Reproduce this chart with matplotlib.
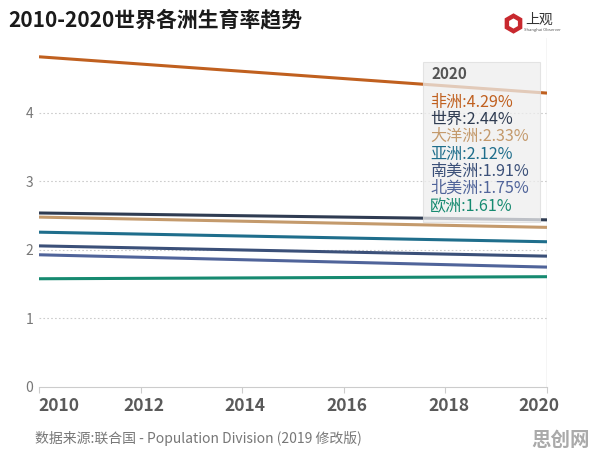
import matplotlib
matplotlib.use("Agg")
import matplotlib.pyplot as plt
from matplotlib.patches import Rectangle
from matplotlib.lines import Line2D
import matplotlib.transforms as mtransforms

plt.rcParams['font.family'] = ['Noto Sans CJK SC', 'DejaVu Sans']

years = [2010, 2020]
series_names = ["非洲", "世界", "大洋洲", "亚洲", "南美洲", "北美洲", "欧洲"]
africa = [4.82, 4.29]
world = [2.54, 2.44]
oceania = [2.48, 2.33]
asia = [2.26, 2.12]
south_america = [2.06, 1.91]
north_america = [1.93, 1.75]
europe = [1.58, 1.61]
values = [africa, world, oceania, asia, south_america, north_america, europe]
colors = ["#c0601f", "#2f3c52", "#c49a6c", "#1f6e8c", "#3b5079", "#50649a", "#168a70"]
labels_2020 = ["4.29%", "2.44%", "2.33%", "2.12%", "1.91%", "1.75%", "1.61%"]
xticks = [2010, 2012, 2014, 2016, 2018, 2020]
yticks = [0, 1, 2, 3, 4]

fig = plt.figure(figsize=(5.96, 4.51), dpi=100)
ax = fig.add_axes([39/596, 1-387/451, (547-39)/596, (387-37.6)/451])

for v, c in zip(values, colors):
    ax.plot(years, v, color=c, lw=2.2, solid_capstyle='butt', zorder=3)

ax.set_xlim(2010, 2020)
ax.set_ylim(0, 5.1)
ax.set_xticks(xticks)
ax.set_xticklabels([str(x) for x in xticks], fontsize=12.5, fontweight='bold', color='#5a5a5a')
ax.set_yticks(yticks)
ax.set_yticklabels([str(y) for y in yticks], fontsize=10, color='#777777')
for y in yticks[1:]:
    ax.axhline(y, color='#cccccc', lw=0.8, ls=(0, (1.5, 2)), zorder=1)
for s in ['top', 'right', 'left']:
    ax.spines[s].set_visible(False)
ax.spines['bottom'].set_color('#cccccc')
ax.tick_params(axis='x', length=4, color='#cccccc', pad=3)
ax.tick_params(axis='y', length=0, pad=4)
ax.axvline(2020, color='#cccccc', lw=1, zorder=2)

# shift edge x labels inward like the reference
xlabels = ax.get_xticklabels()
xlabels[0].set_horizontalalignment('left')
xlabels[0].set_transform(xlabels[0].get_transform() + mtransforms.ScaledTranslation(-1/100, 0, fig.dpi_scale_trans))
xlabels[-1].set_transform(xlabels[-1].get_transform() + mtransforms.ScaledTranslation(-8/100, 0, fig.dpi_scale_trans))
for lab in xlabels[1:-1]:
    lab.set_transform(lab.get_transform() + mtransforms.ScaledTranslation(3/100, 0, fig.dpi_scale_trans))

# tooltip box
bx0, bx1 = 423/596, 540/596
by0, by1 = 1-222/451, 1-62/451
fig.patches.append(Rectangle((bx0, by0), bx1-bx0, by1-by0, transform=fig.transFigure,
                             facecolor='#eeeeee', edgecolor='#dddddd', lw=0.8, alpha=0.75, zorder=5))
fig.text(432/596, 1-74/451, "2020", fontsize=11, fontweight='bold', color='#555555', va='center', zorder=6)
ys = [102, 119, 136, 154, 171, 188, 207]
for name, lab, c, yy in zip(series_names, labels_2020, colors, ys):
    fig.text(430/596, 1-yy/451, f"{name}:{lab}", fontsize=11.6, color=c, va='center', zorder=6)

# title
fig.text(8/596, 1-20/451, "2010-2020世界各洲生育率趋势", fontsize=15, fontweight='bold', color='#1a1a1a', va='center')
# source
fig.text(35/596, 1-438/451, "数据来源:联合国 - Population Division (2019 修改版)", fontsize=10, color='#777777', va='center')
# watermark
fig.text(590/596, 1-440/451, "思创网", fontsize=14, fontweight='bold', color='#aaaaaa', va='center', ha='right')
# logo
fig.add_artist(Line2D([513/596], [1-23/451], marker='h', markersize=11, markerfacecolor='white',
                      markeredgecolor='#c8282e', markeredgewidth=3.2, transform=fig.transFigure))
fig.text(525/596, 1-20/451, "上观", fontsize=10, color='#333333', va='center')
fig.text(524/596, 1-30/451, "Shanghai Observer", fontsize=3, color='#555555', va='center')

fig.savefig("out.png", dpi=100, facecolor='white')
